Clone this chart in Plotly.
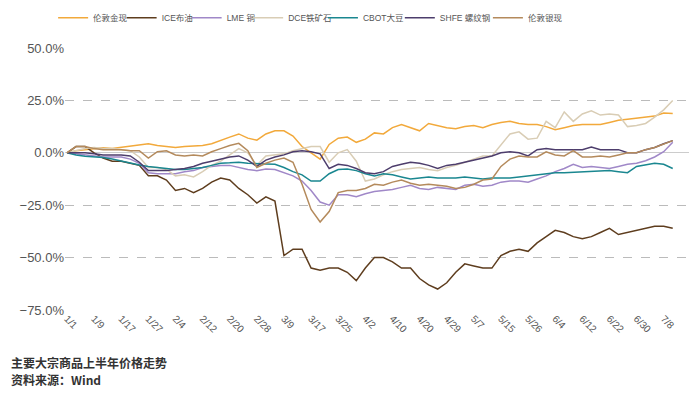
import plotly.graph_objects as go

# trading-day index of each sampled point (every 2nd trading day)
day_index = list(range(0, 135, 2))

tick_days = list(range(0, 133, 6))
tick_labels = ["1/1", "1/9", "1/17", "1/27", "2/4", "2/12", "2/20", "2/28", "3/9", "3/17",
               "3/25", "4/2", "4/10", "4/20", "4/29", "5/7", "5/15", "5/26", "6/4", "6/12",
               "6/22", "6/30", "7/8"]

y_ticks = [-75, -50, -25, 0, 25, 50]
y_tick_labels = ["−75.0%", "−50.0%", "−25.0%", "0.0%", "25.0%", "50.0%"]

gold = [0, 1, 1.5, 2, 2.4, 2, 2.5, 3, 3.5, 4.3, 3.5, 3, 2.5, 3, 3.2, 3.5, 4.3, 6, 7.5, 9,
        7, 6, 9, 10.5, 10.5, 8, 3, 0, -3, 4, 7, 7.5, 5, 6.5, 9.5, 9, 12, 13.5, 12, 10.5,
        14, 13, 12, 11.5, 12.5, 13, 12, 13.5, 14.5, 15, 14, 13.5, 13.5, 12.5, 11, 12, 13, 13.5,
        13.5, 13.5, 14.5, 15.5, 16, 16.5, 17, 17.5, 19, 18.7]

brent = [0, 3, 3, 0, -2.5, -4, -4, -5, -6, -11, -11, -13, -18, -17, -19, -17, -14, -12, -13, -17,
         -20, -24, -21, -23, -49, -46, -46, -55, -56, -55, -55, -57, -61, -55, -50, -50, -52, -55, -55, -60,
         -63, -65, -62, -57, -53, -54, -55, -55, -49, -47, -46, -47, -43, -40, -37, -38, -40, -41,
         -40, -38, -36, -39, -38, -37, -36, -35, -35, -36]

lme_copper = [0, -0.5, -1, -1.5, -2, -2, -2, -3, -5, -9.5, -10, -10, -10, -9, -8.5, -7, -6.5, -6, -6, -7,
              -8, -8.5, -7.7, -8, -9.6, -11, -13.5, -18, -23.5, -25, -20, -20, -21, -19.5, -18.5, -18, -17.5, -16.5, -15.5, -17,
              -17.5, -16.5, -17, -17.5, -15.5, -15, -16, -15.5, -14, -13.5, -13.5, -14, -12.5, -11, -9, -7.5, -5.5, -7,
              -6.5, -7, -7.5, -6.5, -5.5, -5, -3.8, -2, 0.5, 5]

iron_ore = [0, 1, 2, 2.5, 2, 2, 1.5, 1, -2, -7, -7, -8, -11, -10.5, -11.5, -9, -6, -4, -1, 2,
            0, -6, -1.5, -1, -0.5, 1, 2, 3, 3, -4.5, 0, 1.5, -4, -13.5, -12.5, -10.5, -9, -8, -7.5, -7,
            -8, -8.5, -7, -6, -4.5, -3, -1.5, -1.5, 4, 9, 10, 6.5, 7, 15, 12, 19.5, 15, 18.5,
            20, 18, 18.5, 18, 12.5, 13, 14, 17, 20.5, 25]

cbot_soy = [0, -1, -1.6, -2, -2.2, -3, -4, -5, -5.8, -6.5, -7, -7.7, -8, -8, -7.5, -7, -6, -5, -4.8, -4.5,
            -5, -5, -5.3, -5.5, -7, -9, -10.5, -13.5, -13.5, -10, -8, -7.7, -8.5, -10, -11, -10, -10.5, -11.5, -12.5, -12,
            -11.5, -12, -12, -12, -11.5, -12, -12.5, -12, -12, -12, -11.5, -11, -10.6, -9.8, -9.5, -9.5, -9.3, -9.2,
            -9, -8.5, -8.5, -9, -9.5, -6.5, -5.8, -5, -5.5, -7.5]

shfe_rebar = [0, 0, 0, -0.5, -1, -1, -1, -1.5, -4.5, -8.5, -8.5, -8.5, -8, -7.5, -6.5, -5, -4, -3, -2, -1.5,
              -3.5, -6.5, -3.5, -2, -1, 0.5, 1, 0.5, -0.5, -7.5, -5.5, -6, -7.5, -9.5, -10, -9, -6.5, -5.5, -4.5, -5,
              -6, -7.5, -6, -5.5, -4.5, -3.5, -2.5, -1.5, 0, 0.5, 0, -1.5, 1.5, 2, 1.5, 1.5, 1.5, 1.5,
              2.7, 1.5, 1.5, 1.5, 0, 0, 1.5, 2.5, 4.3, 5.8]

silver = [0, 3, 3, 2, 1.5, 1.5, 1.5, 1, 1, -2.5, 0.5, 1, -1, -1.5, -1, -1.5, 0.5, 2, 3.5, 4.5,
          1, -7, -5, -3.5, -2.5, -4.5, -15, -27, -33, -28, -19, -18, -18, -17, -15, -15.5, -14, -13, -14.5, -15.5,
          -15, -15.5, -16, -17, -16.5, -15, -13, -12.5, -6.5, -3, -1.5, -2, -2, 0.5, -1, -1.5, 1, -2,
          -2, -1.5, -2, -1, 0, 0, 1.5, 2.5, 4, 5.8]

series_names = ["伦敦金现", "ICE布油", "LME 铜", "DCE铁矿石", "CBOT大豆", "SHFE 螺纹钢", "伦敦银现"]
series_values = [gold, brent, lme_copper, iron_ore, cbot_soy, shfe_rebar, silver]
series_colors = ["#F2A93B", "#5E3D1E", "#A088C8", "#D9CDB5", "#1A8790", "#4D3D6C", "#B48A5C"]

# left edge (container fraction) of each legend entry, placed one by one across the top
legend_left = [0.076, 0.174, 0.267, 0.355, 0.462, 0.572, 0.698]

fig = go.Figure()
legend_layout = {}
for i, (name, vals, col) in enumerate(zip(series_names, series_values, series_colors)):
    key = "legend" if i == 0 else f"legend{i + 1}"
    fig.add_trace(go.Scatter(x=day_index, y=vals, name=name, mode="lines",
                             line=dict(color=col, width=1.5), legend=key))
    legend_layout[key] = dict(orientation="h", xref="container", yref="container",
                              x=legend_left[i], xanchor="left", y=0.955, yanchor="middle",
                              font=dict(size=8.5, color="#555555"), itemwidth=30,
                              bgcolor="rgba(0,0,0,0)")

fig.update_layout(
    width=699, height=396,
    margin=dict(l=65, r=10, t=48, b=86, autoexpand=False),
    paper_bgcolor="white", plot_bgcolor="white",
    font=dict(family="Liberation Sans, Noto Sans CJK SC, sans-serif", color="#555555", size=12),
    showlegend=True,
    xaxis=dict(range=[-0.44, 137.6], tickmode="array", tickvals=tick_days, ticktext=tick_labels,
               tickangle=45, tickfont=dict(size=10, color="#555555"), showgrid=False,
               zeroline=False, showline=False, ticks=""),
    yaxis=dict(range=[-75, 50], tickmode="array", tickvals=y_ticks, ticktext=y_tick_labels,
               showgrid=True, gridcolor="#BBBBBB", griddash="dash", gridwidth=1,
               zeroline=True, zerolinecolor="#CCCCCC", zerolinewidth=1,
               tickfont=dict(size=13, color="#555555"), showline=False, ticks=""),
    annotations=[
        dict(text="<b>主要大宗商品上半年价格走势</b>", xref="paper", yref="paper", x=-0.09, y=-0.2,
             xanchor="left", yanchor="middle", showarrow=False,
             font=dict(size=12, color="#333333", family="Noto Sans CJK SC")),
        dict(text="<b>资料来源：Wind</b>", xref="paper", yref="paper", x=-0.09, y=-0.265,
             xanchor="left", yanchor="middle", showarrow=False,
             font=dict(size=12, color="#333333", family="Noto Sans CJK SC")),
    ],
    **legend_layout,
)

fig.write_html("out.html", config={"displayModeBar": False},
               post_script="document.body.style.margin='0';")
